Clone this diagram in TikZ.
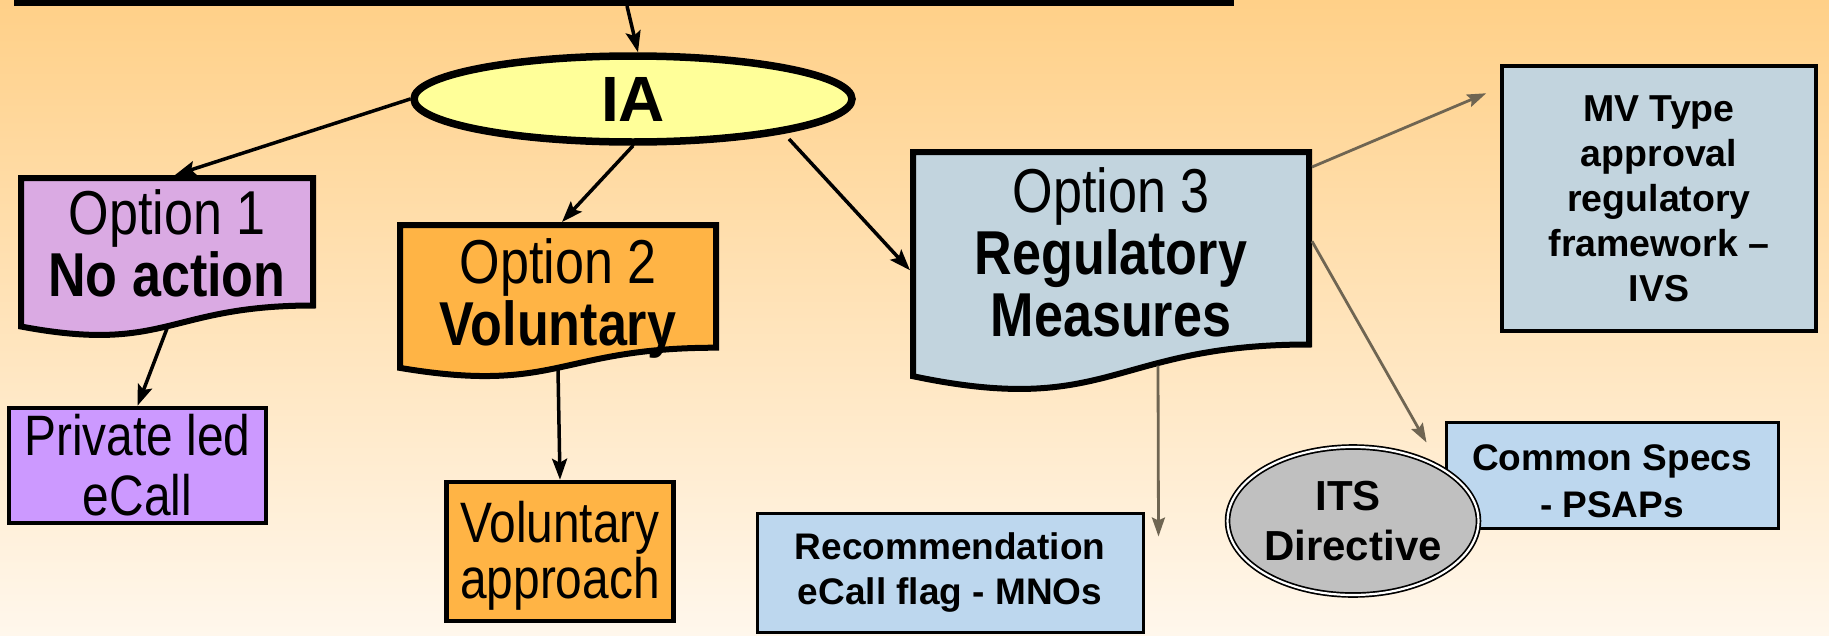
\documentclass[tikz,border=0pt]{standalone}
\usepackage{fontspec}
\setmainfont{Liberation Sans}
\newfontfamily\condf[FakeStretch=0.84]{Liberation Sans}
\usetikzlibrary{shapes.geometric,arrows.meta,calc}
\pgfdeclarelayer{back}
\pgfdeclarelayer{docs}
\pgfsetlayers{back,docs,main}
\definecolor{bgtop}{HTML}{FFD088}
\definecolor{bgbot}{HTML}{FFF7EC}
\definecolor{iayellow}{HTML}{FFFF99}
\definecolor{lav}{HTML}{DAAAE3}
\definecolor{purp}{HTML}{CC99FF}
\definecolor{orng}{HTML}{FFB445}
\definecolor{bluegray}{HTML}{C2D4DE}
\definecolor{lblue}{HTML}{BDD7EE}
\definecolor{itsgray}{HTML}{C0C0C0}
\definecolor{arrgray}{HTML}{6F6552}
\tikzset{
  arr/.style={line width=3.5, -{Stealth[length=21,width=15,inset=4]}},
  garr/.style={line width=2.8, draw=arrgray, -{Stealth[length=19,width=13,inset=3]}},
  docnode/.style={rectangle, draw=none, inner sep=0, outer sep=0, anchor=north west},
  docline/.style={draw=black, line width=6, line join=miter},
  box/.style={rectangle, draw=black, inner sep=0, align=center},
  bigtext/.style={align=center, inner sep=0, font=\condf\fontsize{62}{62}\selectfont},
  midtext/.style={font=\condf\fontsize{57}{60}\selectfont},
}
\begin{document}
\begin{tikzpicture}[x=1pt,y=-1pt]
\useasboundingbox (0,0) rectangle (1829,635);
\begin{pgfonlayer}{back}
\shade[top color=bgtop,bottom color=bgbot] (0,0) rectangle (1829,635);
\end{pgfonlayer}

% top bar
\node[rectangle, draw=black, line width=6, minimum width=1214, minimum height=60, inner sep=0, anchor=south] (top) at (624,6) {};

% IA
\node[ellipse, draw=black, line width=7.5, fill=iayellow, minimum width=438, minimum height=86, inner sep=0, font=\bfseries\fontsize{64}{64}\selectfont] (IA) at (633,99) {IA};

% document shaped options
\node[docnode, minimum width=292, minimum height=127.5] (opt1) at (21,178) {};
\node[docnode, minimum width=316, minimum height=122.7] (opt2) at (400,225) {};
\node[docnode, minimum width=396, minimum height=192.5] (opt3) at (913,152) {};
\node[bigtext] (opt1t) at ($(opt1.center)+(0,2)$) {Option 1\\\textbf{No action}};
\node[bigtext] (opt2t) at ($(opt2.center)+(0,12)$) {Option 2\\\textbf{Voluntary}};
\node[bigtext] (opt3t) at ($(opt3.center)+(0,4)$) {Option 3\\\textbf{Regulatory}\\\textbf{Measures}};

\begin{pgfonlayer}{docs}
\draw[docline, fill=lav] (opt1.north west) -- (opt1.north east) -- (opt1.south east)
  .. controls (opt1.south) and ($(opt1.south)+(0,48.5)$) .. ($(opt1.south west)+(0,21)$) -- cycle;
\draw[docline, fill=orng] (opt2.north west) -- (opt2.north east) -- (opt2.south east)
  .. controls (opt2.south) and ($(opt2.south)+(0,46.7)$) .. ($(opt2.south west)+(0,20.2)$) -- cycle;
\draw[docline, fill=bluegray] (opt3.north west) -- (opt3.north east) -- (opt3.south east)
  .. controls (opt3.south) and ($(opt3.south)+(0,73.2)$) .. ($(opt3.south west)+(0,31.7)$) -- cycle;
\end{pgfonlayer}

% boxes
\node[box, line width=4.5, fill=purp, minimum width=257, minimum height=115, midtext] (priv) at (137.5,465.5) {Private led\\eCall};
\node[box, line width=4.5, fill=orng, minimum width=227, minimum height=139] (vol) at (560,551.5) {};
\node[align=center, inner sep=0, font=\condf\fontsize{57}{56}\selectfont] (volt) at ($(vol.center)+(0,4)$) {Voluntary\\approach};
\node[box, line width=3.5, fill=bluegray, minimum width=314, minimum height=265, font=\bfseries\fontsize{37.5}{45}\selectfont] (mv) at (1659,198.5) {MV Type\\approval\\regulatory\\framework --\\IVS};
\node[box, line width=3, fill=lblue, minimum width=332, minimum height=106] (cs) at (1612,475) {};
\node[align=center, inner sep=0, font=\bfseries\fontsize{37}{47}\selectfont] (cst) at ($(cs.center)+(0,6)$) {Common Specs\\- PSAPs};
\node[box, line width=3, fill=lblue, minimum width=386, minimum height=119, font=\bfseries\fontsize{37}{45}\selectfont] (rec) at (950,572.5) {Recommendation\\eCall flag - MNOs};
\node[ellipse, draw=black, line width=1.7, double=white, double distance=2.2, fill=itsgray, minimum width=232, minimum height=148, inner sep=0, align=center, font=\bfseries\fontsize{42}{50}\selectfont] (its) at (1353,521) {ITS\hspace*{10pt}\\Directive};

\coordinate (recend) at ($(rec.north east)+(14,25)$);
\coordinate (mvend) at ($(mv.north west)+(-14,29)$);
\coordinate (csend) at ($(cs.north west)+(-18,22)$);

% connectors
\draw[arr] ($(top.south)+(3,0)$) -- ($(IA.north)+(5,0)$);
\draw[arr] (IA.west) -- ($(opt1.north)+(8,-3)$);
\draw[arr] (IA.south) -- ($(opt2.north)+(4,-3)$);
\draw[arr] ($(IA.center)+(156,40)$) -- ($(opt3.west)+(-3,22)$);
\draw[arr] ($(opt1.south)+(0,23)$) -- (priv.north);
\draw[arr] ($(opt2.south)+(0,22)$) -- (vol.north);
\draw[garr] ($(opt3.south)+(47,21)$) -- (recend);
\draw[garr] ($(opt3.north east)+(3,15)$) -- (mvend);
\draw[garr] ($(opt3.east)+(3,-7)$) -- (csend);
\end{tikzpicture}
\end{document}
